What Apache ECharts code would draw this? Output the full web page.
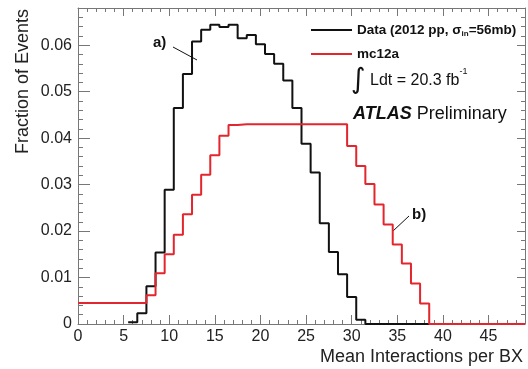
<!DOCTYPE html>
<html>
<head>
<meta charset="utf-8">
<script src="https://cdn.jsdelivr.net/npm/echarts@6/dist/echarts.min.js"></script>
<style>
  html, body { margin: 0; padding: 0; background: #fff; }
  #chart { width: 528px; height: 369px; }
</style>
</head>
<body>
<div id="chart"></div>
<script>
// bin centres are integers, bin width 1
const xMax = 49;
const yMax = 0.068;

// Data (2012 pp), first bin centred at 6
const dataFirstBin = 6;
const dataFrac = [0.0004, 0.0023, 0.0081, 0.0154, 0.0289, 0.0465, 0.0538, 0.0608, 0.0633, 0.0644,
                  0.0639, 0.0644, 0.0615, 0.0622, 0.0602, 0.0581, 0.0560, 0.0524, 0.0465, 0.0388,
                  0.0326, 0.0217, 0.0155, 0.0107, 0.0058, 0.0009];

// mc12a, first bin centred at 0
const mcFirstBin = 0;
const mcFrac = [0.0045, 0.0045, 0.0045, 0.0045, 0.0045, 0.0045, 0.0045, 0.0045,
                0.0062, 0.0109, 0.0150, 0.0192, 0.0236, 0.0278, 0.0321, 0.0363, 0.0405,
                0.0428, 0.0430, 0.0430, 0.0430, 0.0430, 0.0430, 0.0430, 0.0430, 0.0430, 0.0430, 0.0430, 0.0430, 0.0430,
                0.0383, 0.0340, 0.0301, 0.0257, 0.0214, 0.0171, 0.0130, 0.0087, 0.0044];

const dataName = 'Data (2012 pp, σin=56mb)';
const mcName = 'mc12a';

const FONT = '"Liberation Sans", Arial, Helvetica, sans-serif';
const AXIS = '#777';

// step histogram points: left edge of every bin, then zero out to the end of the axis
function stepPoints(first, vals) {
    const pts = vals.map((v, i) => [Math.max(0, first + i - 0.5), v]);
    const end = first + vals.length - 0.5;
    pts.push([end, 0]);
    pts.push([xMax, 0]);
    return pts;
}

function xAx(pos, interval, tickLen, showLine, showLabel) {
    return {
        type: 'value', position: pos, min: 0, max: xMax, interval: interval,
        axisLine: { show: showLine, onZero: false, lineStyle: { color: AXIS, width: 1 } },
        axisTick: { show: true, inside: true, length: tickLen, lineStyle: { color: AXIS } },
        axisLabel: {
            show: showLabel, margin: 5, fontFamily: FONT, fontSize: 16, color: '#222',
            formatter: v => (v % 5 === 0 ? String(v) : '')
        },
        splitLine: { show: false }
    };
}

function yAx(pos, interval, tickLen, showLine, showLabel) {
    return {
        type: 'value', position: pos, min: 0, max: yMax, interval: interval,
        axisLine: { show: showLine, onZero: false, lineStyle: { color: AXIS, width: 1 } },
        axisTick: { show: true, inside: true, length: tickLen, lineStyle: { color: AXIS } },
        axisLabel: {
            show: showLabel, margin: 6, fontFamily: FONT, fontSize: 16, color: '#222',
            formatter: function (v) {
                const r = Math.round(v * 1000);
                if (r % 10 !== 0) return '';
                return r === 0 ? '0' : (r / 1000).toFixed(2);
            }
        },
        splitLine: { show: false }
    };
}

const chart = echarts.init(document.getElementById('chart'), null, { renderer: 'canvas' });

const option = {
    backgroundColor: '#fff',
    animation: false,
    grid: { left: 78, right: 2, top: 8, bottom: 45, containLabel: false },
    xAxis: [
        xAx('bottom', 1, 4, true, true),
        xAx('bottom', 5, 9, false, false),
        xAx('top', 1, 4, true, false),
        xAx('top', 5, 8, false, false)
    ],
    yAxis: [
        yAx('left', 0.002, 5, true, true),
        yAx('left', 0.01, 12, false, false),
        yAx('right', 0.002, 4, true, false),
        yAx('right', 0.01, 8, false, false)
    ],
    legend: {
        orient: 'vertical', left: 306, top: 17,
        icon: 'rect', itemWidth: 41, itemHeight: 2, itemGap: 8,
        data: [dataName, mcName],
        formatter: function (name) {
            return name === dataName ? 'Data (2012 pp, σ{sub|in}=56mb)' : name;
        },
        textStyle: {
            fontFamily: FONT, fontWeight: 'bold', fontSize: 13.5, color: '#111', lineHeight: 16,
            rich: { sub: { fontFamily: FONT, fontWeight: 'bold', fontSize: 8, verticalAlign: 'bottom', lineHeight: 16, padding: [6, 0, 0, 0] } }
        }
    },
    series: [
        {
            name: dataName, type: 'line', step: 'end', symbol: 'none',
            xAxisIndex: 0, yAxisIndex: 0,
            color: '#111',
            lineStyle: { color: '#111', width: 2 },
            data: stepPoints(dataFirstBin, dataFrac)
        },
        {
            name: mcName, type: 'line', step: 'end', symbol: 'none',
            xAxisIndex: 0, yAxisIndex: 0,
            color: '#e3262d',
            lineStyle: { color: '#e3262d', width: 2 },
            data: stepPoints(mcFirstBin, mcFrac)
        }
    ],
    graphic: [
        {
            type: 'text', x: 23, y: 9, rotation: Math.PI / 2,
            style: { text: 'Fraction of Events', fill: '#222', font: '18px ' + FONT, textAlign: 'right', textVerticalAlign: 'middle' }
        },
        {
            type: 'text', x: 523, y: 357,
            style: { text: 'Mean Interactions per BX', fill: '#222', font: '18px ' + FONT, textAlign: 'right', textVerticalAlign: 'middle' }
        },
        {
            type: 'text', x: 351, y: 81,
            style: {
                text: '{i|∫} Ldt = 20.3 fb{s|-1}', fill: '#111', textVerticalAlign: 'middle',
                font: '16px ' + FONT,
                rich: {
                    i: { fontFamily: '"DejaVu Sans"', fontSize: 28, fill: '#111' },
                    s: { fontFamily: FONT, fontSize: 9, fill: '#111', verticalAlign: 'top', padding: [0, 0, 8, 0] }
                }
            }
        },
        {
            type: 'text', x: 353, y: 114,
            style: {
                text: '{b|ATLAS} Preliminary', fill: '#111', textVerticalAlign: 'middle',
                font: '18px ' + FONT,
                rich: { b: { fontFamily: FONT, fontSize: 18, fontWeight: 'bold', fontStyle: 'italic', fill: '#111' } }
            }
        },
        {
            type: 'text', x: 153, y: 43,
            style: { text: 'a)', fill: '#111', font: 'bold 15px ' + FONT, textVerticalAlign: 'middle' }
        },
        {
            type: 'line', shape: { x1: 173, y1: 47, x2: 197, y2: 60 },
            style: { stroke: '#111', lineWidth: 1 }
        },
        {
            type: 'text', x: 412, y: 215,
            style: { text: 'b)', fill: '#111', font: 'bold 15px ' + FONT, textVerticalAlign: 'middle' }
        },
        {
            type: 'line', shape: { x1: 409, y1: 216, x2: 393, y2: 231 },
            style: { stroke: '#111', lineWidth: 1 }
        }
    ]
};

chart.setOption(option);
window.addEventListener('resize', () => chart.resize());
</script>
</body>
</html>
